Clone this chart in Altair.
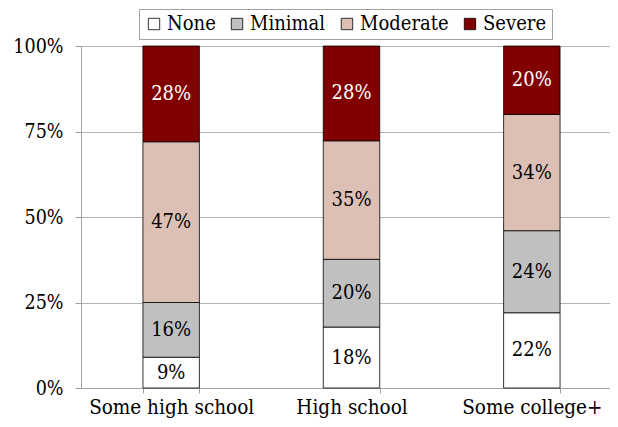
import altair as alt
import pandas as pd

categories = ["Some high school", "High school", "Some college+"]
levels = ["None", "Minimal", "Moderate", "Severe"]
level_colors = ["#FFFFFF", "#C0C0C0", "#DCC0B5", "#800000"]
text_colors = ["black", "black", "black", "white"]

none_vals = [9, 18, 22]
minimal_vals = [16, 20, 24]
moderate_vals = [47, 35, 34]
severe_vals = [28, 28, 20]

series = [none_vals, minimal_vals, moderate_vals, severe_vals]
rows = []
for li, (lvl, vals) in enumerate(zip(levels, series)):
    for ci, cat in enumerate(categories):
        rows.append({"cat": cat, "level": lvl, "order": li, "value": vals[ci],
                     "label": f"{vals[ci]}%", "tcolor": text_colors[li]})
df = pd.DataFrame(rows)

FONT = "DejaVu Serif Condensed"

base = alt.Chart(df).transform_stack(
    stack="value", groupby=["cat"], as_=["y0", "y1"],
    sort=[alt.SortField("order", order="ascending")], offset="normalize"
).transform_calculate(mid="(datum.y0 + datum.y1) / 2")

x_enc = alt.X("cat:N", sort=categories, title=None,
              scale=alt.Scale(paddingInner=0.687, paddingOuter=0.3435, range=[0, 541]),
              axis=alt.Axis(labelAngle=0, labelFontSize=20.5, labelFont=FONT,
                            labelColor="black", tickBand="extent", tickSize=5,
                            tickColor="#A0A0A0", domainColor="#A0A0A0",
                            labelPadding=4))

bars = base.mark_bar(stroke="black", strokeWidth=0.8).encode(
    x=x_enc,
    y=alt.Y("y0:Q", title=None, scale=alt.Scale(domain=[0, 1]),
            axis=alt.Axis(values=[0, 0.25, 0.5, 0.75, 1], format=".0%",
                          labelFontSize=19.5, labelFont=FONT, labelColor="black",
                          tickSize=6, tickColor="#A0A0A0", domainColor="#A0A0A0",
                          gridColor="#B4B4B4", labelPadding=12)),
    y2="y1:Q",
    color=alt.Color("level:N", sort=levels,
                    scale=alt.Scale(domain=levels, range=level_colors),
                    legend=alt.Legend(title=None, orient="none", direction="horizontal",
                                      legendX=58, legendY=-37,
                                      strokeColor="#A0A0A0", padding=5,
                                      symbolType="square", symbolSize=130,
                                      symbolStrokeColor="black", symbolStrokeWidth=0.8,
                                      labelFontSize=20, labelFont=FONT, labelColor="black",
                                      labelOffset=3, columnPadding=11)),
)

labels = base.mark_text(fontSize=20, font=FONT, baseline="middle").encode(
    x=alt.X("cat:N", sort=categories),
    y=alt.Y("mid:Q"),
    text="label:N",
    color=alt.Color("tcolor:N", scale=None),
)

chart = (bars + labels).properties(
    width=529, height=342,
    autosize=alt.AutoSizeParams(type="none"),
    padding={"left": 73, "top": 38, "right": 0, "bottom": 30},
).configure_view(stroke=None).configure(font=FONT)

chart.save("out.html", embed_options={"renderer": "svg", "actions": False})
